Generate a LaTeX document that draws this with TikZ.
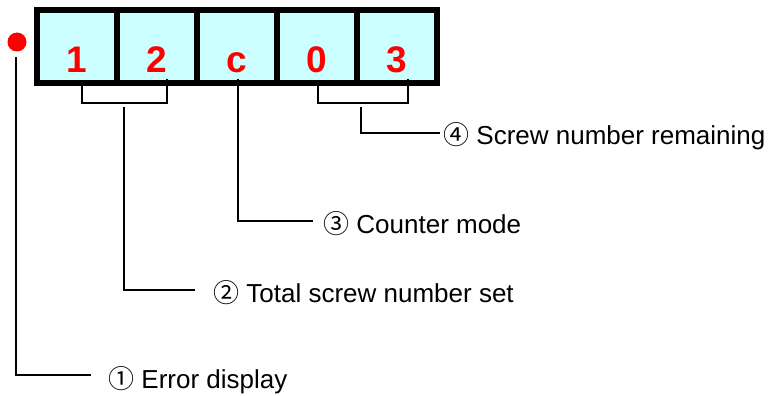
\documentclass[tikz,border=0pt]{standalone}
\usepackage{fontspec}
\setmainfont{Liberation Sans}
\newfontfamily\circfont{Noto Sans CJK JP}
\definecolor{cellcyan}{HTML}{CCFFFF}
\definecolor{digitred}{HTML}{FF0000}
\newcommand{\cnum}[1]{{\circfont #1}}
\tikzset{
  frame/.style={rectangle, fill=black, draw=none, minimum width=406pt, minimum height=79pt, inner sep=0pt},
  cell/.style={rectangle, fill=cellcyan, draw=none, minimum width=74pt, minimum height=67pt, inner sep=0pt},
  digit/.style={anchor=base, inner sep=0pt, text=digitred, font=\fontsize{37}{37}\selectfont\bfseries},
  lbl/.style={anchor=base west, inner sep=0pt, font=\fontsize{26}{26}\selectfont},
  conn/.style={draw=black, line width=1.5pt},
}
\begin{document}
\begin{tikzpicture}[x=1pt,y=-1pt]
\useasboundingbox (0,0) rectangle (772,396);
\node[frame] (frame) at (237,46.5) {};
\foreach \i/\x/\t in {1/77/1,2/157/2,3/237/c,4/317/0,5/397/3}{
  \node[cell] (c\i) at (\x,46.5) {};
  \node[digit] (d\i) at (\x,73) {\t};
}
\node[circle, fill=digitred, minimum size=19pt, inner sep=0pt] (dot) at (17,42) {};
% labels
\node[lbl] (l4) at (443,145) {\cnum{④} Screw number remaining};
\node[lbl] (l3) at (323,233) {\cnum{③} Counter mode};
\node[lbl] (l2) at (213,302) {\cnum{②} Total screw number set};
\node[lbl] (l1) at (108,388) {\cnum{①} Error display};
% coordinates
\coordinate (b1a) at (82,86);
\coordinate (b1b) at (167,79);
\coordinate (s2) at (124,107);
\coordinate (e2) at (195,290);
\coordinate (s3) at (238,79);
\coordinate (e3) at (313,221);
\coordinate (b2a) at (318,86);
\coordinate (b2b) at (408,79);
\coordinate (s4) at (361,107);
\coordinate (e4) at (440,133);
\coordinate (s1) at (16,57);
\coordinate (e1) at (91,375);
% connectors
\draw[conn] (b1a) -- (82,103) -- (167,103) -- (b1b);
\draw[conn] (s2) |- (e2);
\draw[conn] (s3) |- (e3);
\draw[conn] (b2a) -- (318,103) -- (408,103) -- (b2b);
\draw[conn] (s4) |- (e4);
\draw[conn] (s1) |- (e1);
\end{tikzpicture}
\end{document}
